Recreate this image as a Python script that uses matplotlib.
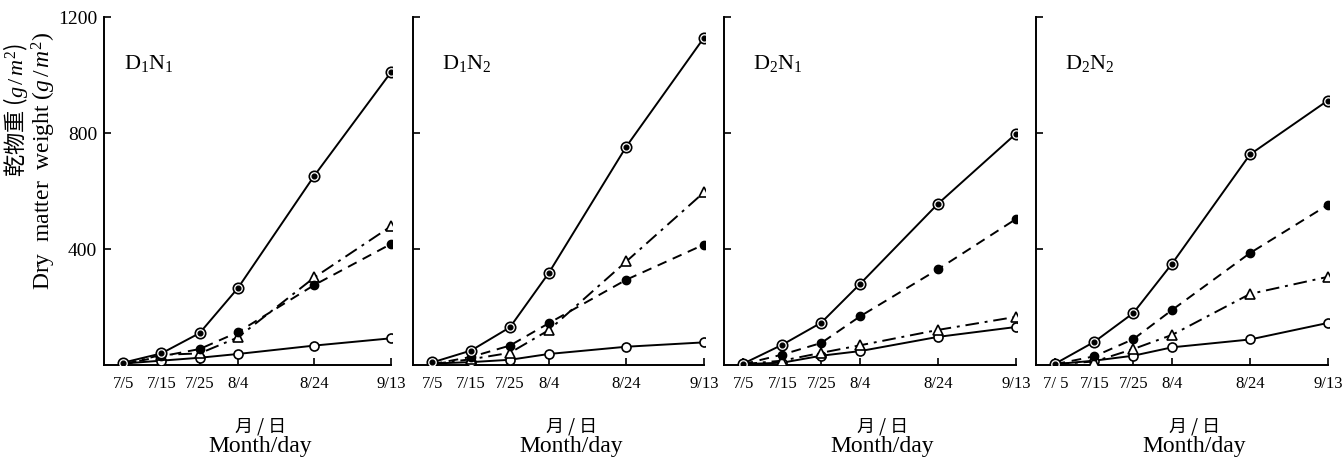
import matplotlib.pyplot as plt

plt.rcParams['font.family'] = ['Liberation Serif', 'DejaVu Serif']
plt.rcParams['mathtext.fontset'] = 'custom'
plt.rcParams['mathtext.rm'] = 'Liberation Serif'
plt.rcParams['mathtext.it'] = 'Liberation Serif:italic'

# days after 7/5
days = [0, 10, 20, 30, 50, 70]
date_labels = ["7/5", "7/15", "7/25", "8/4", "8/24", "9/13"]
date_labels_last = ["7/ 5", "7/15", "7/25", "8/4", "8/24", "9/13"]
panel_names = [r"$\mathrm{D_1N_1}$", r"$\mathrm{D_1N_2}$", r"$\mathrm{D_2N_1}$", r"$\mathrm{D_2N_2}$"]

# double circle, solid
total = [
    [8, 40, 110, 265, 653, 1009],
    [9, 50, 130, 317, 753, 1128],
    [5, 70, 146, 280, 556, 797],
    [5, 80, 179, 350, 726, 912],
]
# filled circle, dashed
filled = [
    [2, 30, 55, 113, 276, 417],
    [3, 28, 67, 144, 294, 415],
    [3, 36, 76, 168, 330, 503],
    [3, 30, 89, 190, 386, 552],
]
# open triangle, dash-dot
triangle = [
    [2, 35, 40, 95, 302, 478],
    [3, 20, 42, 120, 357, 595],
    [3, 15, 42, 68, 121, 166],
    [3, 12, 55, 104, 245, 304],
]
# open circle, solid
opencirc = [
    [5, 15, 25, 38, 67, 92],
    [5, 10, 18, 38, 63, 78],
    [3, 8, 32, 48, 97, 131],
    [3, 15, 32, 61, 88, 145],
]

W, H = 1344, 464
fig = plt.figure(figsize=(W / 100, H / 100), dpi=100)

lefts = [104, 413, 724, 1036]
rights = [392, 705, 1017, 1329]
name_x = [0.07, 0.10, 0.10, 0.10]

for i in range(4):
    ax = fig.add_axes([lefts[i] / W, 98 / H, (rights[i] - lefts[i]) / W, 348 / H])
    lw = 1.4
    ax.plot(days, opencirc[i], '-', color='k', lw=lw, marker='o', ms=6.5,
            mfc='white', mec='k', mew=1.2, zorder=3)
    ax.plot(days, triangle[i], color='k', lw=lw, ls=(0, (7, 3, 1.5, 3)), marker='^', ms=7,
            mfc='white', mec='k', mew=1.2, zorder=3)
    ax.plot(days, filled[i], color='k', lw=lw, ls=(0, (5, 3.5)), marker='o', ms=6,
            mfc='k', mec='k', zorder=4)
    ax.plot(days, total[i], '-', color='k', lw=lw, marker='o', ms=7.5,
            mfc='white', mec='k', mew=1.2, zorder=5)
    ax.plot(days, total[i], ls='none', marker='o', ms=3.4, mfc='k', mec='k', zorder=6)

    ax.set_xlim(-5, 70.3)
    ax.set_ylim(0, 1200)
    ax.spines['top'].set_visible(False)
    ax.spines['right'].set_visible(False)
    ax.spines['left'].set_linewidth(1.4)
    ax.spines['bottom'].set_linewidth(1.4)
    ax.spines['bottom'].set_bounds(-5, 70)

    ax.set_xticks(days)
    ax.set_xticklabels(date_labels_last if i == 3 else date_labels, fontsize=12)
    ax.set_yticks([400, 800, 1200])
    if i == 0:
        ax.set_yticklabels(["400", "800", "1200"], fontsize=14)
    else:
        ax.set_yticklabels([])
    ax.tick_params(axis='x', direction='in', length=5, width=1.2, pad=7)
    ax.tick_params(axis='y', direction='in', length=5, width=1.2, pad=5)

    ax.text(name_x[i], 0.868, panel_names[i], transform=ax.transAxes,
            fontsize=16, ha='left', va='center')

    xc = (lefts[i] + rights[i]) / 2 / W + 0.009
    fig.text(xc, 1 - 427 / H, "月 / 日", ha='center', va='center', fontsize=13,
             family=['Noto Sans CJK JP', 'DejaVu Sans'])
    fig.text(xc, 1 - 447 / H, "Month/day", ha='center', va='center', fontsize=17)

fig.text(16 / W, 1 - 43 / H, "乾物重 ($g\\,/\\,m^2$)", rotation=90, ha='center', va='top',
         fontsize=16, family=['Noto Sans CJK JP', 'DejaVu Sans'])
fig.text(44 / W, 1 - 32 / H, "Dry  matter  weight ($g\\,/\\,m^2$)", rotation=90,
         ha='center', va='top', fontsize=17)

fig.savefig("out.png", dpi=100)
